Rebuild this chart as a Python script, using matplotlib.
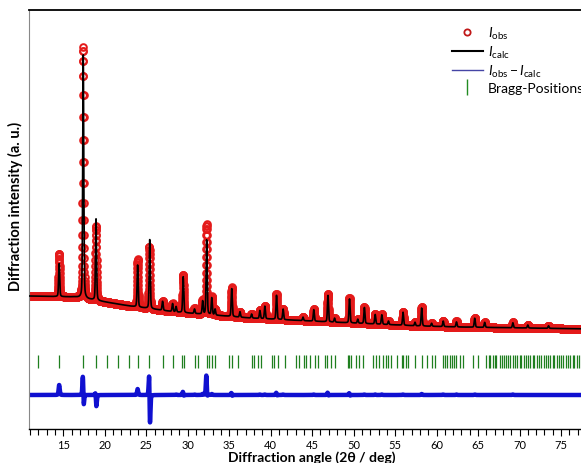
import numpy as np
import matplotlib.pyplot as plt
from matplotlib.lines import Line2D

plt.rcParams['font.family'] = ['Lato', 'DejaVu Sans']
plt.rcParams['mathtext.fontset'] = 'custom'
plt.rcParams['mathtext.rm'] = 'Lato'
plt.rcParams['mathtext.it'] = 'Lato:italic'

# background knots (2theta, intensity)
bg_pos = [10.86, 16.4, 23.0, 28.5, 37.5, 47.2, 58.0, 62.8, 79.1]
bg_int = [1326, 1316, 1226, 1166, 1106, 1066, 1026, 1016, 996]

# reflections: position, observed height, calculated height, calc offset
peak_pos = [14.50, 17.40, 18.94, 23.96, 25.38, 26.97, 28.17, 28.60, 29.45, 30.82,
            31.80, 32.27, 32.90, 33.30, 35.30, 36.30, 37.70, 38.70, 39.30, 40.70,
            41.50, 43.90, 45.20, 46.90, 47.70, 49.50, 50.50, 51.30, 52.60, 53.40,
            54.20, 55.96, 57.40, 58.20, 59.40, 60.80, 62.40, 64.60, 65.80, 69.20,
            71.00, 73.50]
obs_height = [430, 2510, 740, 480, 620, 90, 80, 60, 380, 50,
              140, 900, 180, 60, 290, 55, 40, 85, 130, 255,
              110, 35, 120, 280, 40, 250, 40, 165, 100, 100,
              35, 135, 35, 190, 30, 60, 55, 95, 50, 55,
              30, 25]
calc_height = [330, 2440, 815, 420, 690, 90, 80, 55, 360, 45,
               130, 745, 170, 60, 280, 55, 40, 80, 125, 240,
               105, 35, 115, 265, 40, 240, 40, 160, 95, 95,
               35, 130, 35, 180, 30, 55, 50, 90, 50, 50,
               30, 25]
calc_shift = [0, 0.006, 0.008, 0, 0.04, 0, 0, 0, 0.005, 0,
              0, 0.01, 0, 0, 0.005, 0, 0, 0, 0, 0.005,
              0, 0, 0, 0.005, 0, 0.005, 0, 0, 0, 0,
              0, 0, 0, 0, 0, 0, 0, 0, 0, 0,
              0, 0]

# Bragg reflection positions
bragg = [11.92, 14.52, 17.41, 18.94, 20.27, 21.59, 22.92, 23.96, 25.36, 26.97,
         28.17, 29.30, 29.50, 30.82, 31.23, 32.28, 32.56, 32.96, 33.28, 34.97,
         35.29, 36.08, 37.69, 38.00, 38.49, 38.81, 40.10, 40.40, 40.90, 41.70,
         43.10, 43.40, 44.00, 44.30, 44.70, 45.30, 45.70, 46.50, 46.80, 47.30,
         47.70, 49.30, 49.50, 49.70, 50.30, 50.60, 51.10, 52.30, 52.70, 53.10,
         53.50, 53.90, 54.20, 54.50, 55.20, 55.80, 56.00, 56.30, 56.60, 57.40,
         58.20, 58.80, 59.40, 59.80, 60.80, 61.00, 61.30, 61.60, 61.90, 62.10,
         62.40, 62.80, 63.20, 64.40, 65.00, 66.00, 66.30, 66.50, 66.80, 67.00,
         67.20, 67.60, 67.90, 68.10, 68.40, 68.60, 68.90, 69.20, 69.40, 69.70,
         70.00, 70.20, 70.50, 70.80, 71.00, 71.30, 71.60, 71.80, 72.10, 72.40,
         72.60, 72.90, 73.20, 73.40, 73.70, 74.00, 74.20, 74.50, 74.80, 75.00,
         75.30, 75.60, 75.80, 76.10, 76.40, 76.60, 76.90, 77.20]

tt = np.arange(10.86, 79.1, 0.01)


def pv(x, pos, h, fwhm=0.15, eta=0.3):
    d = (x - pos) / fwhm
    return h * (eta / (1 + 4 * d ** 2) + (1 - eta) * np.exp(-4 * np.log(2) * d ** 2))


bg = np.interp(tt, bg_pos, bg_int)
obs = bg.copy()
calc = bg.copy()
for p, ho, hc, s in zip(peak_pos, obs_height, calc_height, calc_shift):
    obs += pv(tt, p, ho)
    calc += pv(tt, p + s, hc)
diff = obs - calc + 336

fig = plt.figure(figsize=(5.81, 4.64), dpi=100)
ax = fig.add_axes([29 / 581, 1 - 429.6 / 464, 566 / 581, 418.6 / 464])

ax.plot(tt, obs, ls='none', marker='o', ms=4.8, mfc='none', mec='#E41A1A', mew=1.4, zorder=2)
ax.plot(tt, calc, color='black', lw=1.2, zorder=3)
ax.plot(tt, diff, color='#1010D0', lw=3.2, zorder=2)
ax.vlines(bragg, 606, 736, color='#1f7f1f', lw=0.9)

ax.set_xlim(10.865, 79.1)
ax.set_ylim(0, 4186)
ax.set_xticks(np.arange(15, 80, 5))
ax.set_xticks(np.arange(11, 80, 1), minor=True)
ax.set_yticks([])
ax.tick_params(axis='x', which='major', direction='out', length=5, width=0.8, labelsize=8, pad=2.5)
ax.tick_params(axis='x', which='minor', direction='out', length=4, width=0.8)
ax.spines['right'].set_visible(False)
ax.spines['top'].set_linewidth(1.3)
ax.spines['bottom'].set_linewidth(1.0)
ax.spines['left'].set_color('#888888')
ax.set_xlabel('Diffraction angle (2θ / deg)', fontsize=10, fontweight='bold', labelpad=0.5)
fig.text(15 / 581, 1 - 206 / 464, 'Diffraction intensity (a. u.)', rotation=90,
         ha='center', va='center', fontsize=10.5, fontweight='bold')

handles = [
    Line2D([], [], ls='none', marker='o', ms=4.5, mfc='none', mec='#C01818', mew=1.3),
    Line2D([], [], color='black', lw=1.5),
    Line2D([], [], color='#4545A5', lw=1),
    Line2D([], [], ls='none', marker='|', ms=11, mec='#228B22', mew=1),
]
labels = [r'$\mathit{I}_{\mathrm{obs}}$', r'$\mathit{I}_{\mathrm{calc}}$',
          r'$\mathit{I}_{\mathrm{obs}}-\mathit{I}_{\mathrm{calc}}$', 'Bragg-Positions']
fig.legend(handles, labels, loc='upper left', bbox_to_anchor=(445 / 581, 1 - 19 / 464),
           frameon=False, fontsize=10, borderpad=0, handlelength=2.2,
           handletextpad=0.4, labelspacing=0.2)

fig.savefig('out.png', dpi=100)
